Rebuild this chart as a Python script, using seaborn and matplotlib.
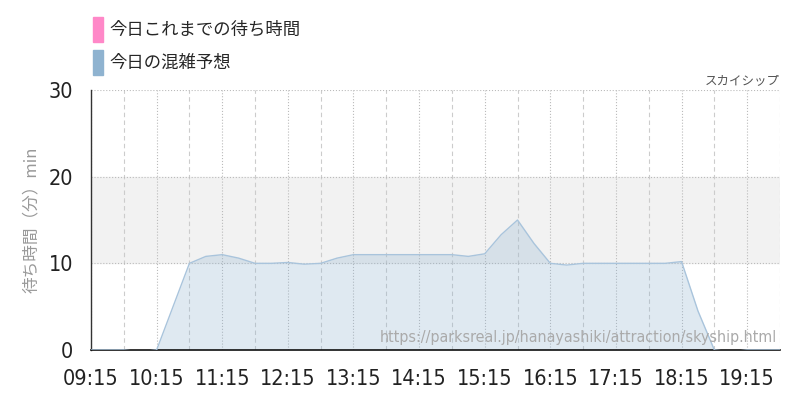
import pandas as pd
import seaborn as sns
import matplotlib.pyplot as plt
import matplotlib.dates as mdates
from matplotlib.patches import Patch

TITLE = 'スカイシップ'
SOURCE = 'https://parksreal.jp/hanayashiki/attraction/skyship.html'
LEGEND_LABELS = ['今日これまでの待ち時間', '今日の混雑予想']
Y_LABEL = '待ち時間（分）min'

times = ['09:15', '09:30', '09:45', '10:00', '10:15', '10:30', '10:45', '11:00',
         '11:15', '11:30', '11:45', '12:00', '12:15', '12:30', '12:45', '13:00',
         '13:15', '13:30', '13:45', '14:00', '14:15', '14:30', '14:45', '15:00',
         '15:15', '15:30', '15:45', '16:00', '16:15', '16:30', '16:45', '17:00',
         '17:15', '17:30', '17:45', '18:00', '18:15', '18:30', '18:45', '19:00',
         '19:15', '19:30', '19:45']
forecast = [0, 0, 0, -0.2, 0, 5, 10, 10.8,
            11, 10.6, 10, 10, 10.1, 9.9, 10, 10.6,
            11, 11, 11, 11, 11, 11, 11, 10.8,
            11.1, 13.3, 15, 12.3, 10, 9.8, 10, 10,
            10, 10, 10, 10, 10.2, 4.5, 0, -0.2,
            0, 0, 0]

PINK = '#ff88c8'
BLUE = '#8fb3d0'

df = pd.DataFrame({'time': pd.to_datetime(['2024-01-01 ' + t for t in times]),
                   'wait': forecast})

sns.set_theme(style='white')
plt.rcParams['font.family'] = ['Noto Sans CJK JP', 'DejaVu Sans']

fig = plt.figure(figsize=(8, 4), dpi=100)
ax = fig.add_axes([0.11375, 0.125, 0.86125, 0.65])

# shaded band 10-20
ax.axhspan(10, 20, color='#f2f2f2', zorder=0)

sns.lineplot(data=df, x='time', y='wait', ax=ax, color='#a9c4dc', linewidth=1, zorder=3)
ax.fill_between(df['time'], df['wait'], 0, color=BLUE, alpha=0.28, linewidth=0, zorder=2)

ax.set_ylim(0, 30)
ax.set_xlim(df['time'].iloc[0], df['time'].iloc[-1])
ax.set_yticks([0, 10, 20, 30])

ax.xaxis.set_major_locator(mdates.MinuteLocator(byminute=[15]))
ax.xaxis.set_minor_locator(mdates.MinuteLocator(byminute=[45]))
ax.xaxis.set_major_formatter(mdates.DateFormatter('%H:%M'))

ax.grid(axis='y', which='major', color='#bbbbbb', linestyle=':', linewidth=0.8)
ax.grid(axis='x', which='major', color='#bbbbbb', linestyle=':', linewidth=0.8)
ax.grid(axis='x', which='minor', color='#cccccc', linestyle=(0, (4, 3)), linewidth=0.8)

ax.tick_params(axis='both', which='major', length=11, width=0.8, color='#bbbbbb',
               labelsize=15.5, labelcolor='#222222', pad=2)
ax.tick_params(axis='x', which='minor', length=0)
ax.tick_params(axis='x', which='major', length=12, pad=2)
for lab in ax.get_xticklabels() + ax.get_yticklabels():
    lab.set_family('DejaVu Sans')
    lab.set_stretch('condensed')

for side in ['top', 'right']:
    ax.spines[side].set_visible(False)
ax.spines['left'].set_color('#333333')
ax.spines['bottom'].set_color('#111111')
ax.spines['left'].set_linewidth(1)
ax.spines['bottom'].set_linewidth(1.2)

ax.set_xlabel('')
ax.set_ylabel(Y_LABEL, color='#999999', fontsize=12, labelpad=6)

ax.text(1.0, 1.012, TITLE, transform=ax.transAxes, ha='right', va='bottom',
        fontsize=9, color='#555555')
ax.text(0.995, 0.018, SOURCE, transform=ax.transAxes, ha='right', va='bottom',
        fontsize=11.5, color='#aaaaaa', family=['DejaVu Sans'], stretch='condensed',
        zorder=5)

handles = [Patch(color=PINK), Patch(color=BLUE)]
fig.legend(handles, LEGEND_LABELS, loc='upper left', bbox_to_anchor=(0.108, 0.975),
           frameon=False, fontsize=12.5, handlelength=0.55, handleheight=1.85,
           handletextpad=0.4, labelspacing=0.45, borderaxespad=0)

plt.savefig('out.png', dpi=100)
plt.close()
